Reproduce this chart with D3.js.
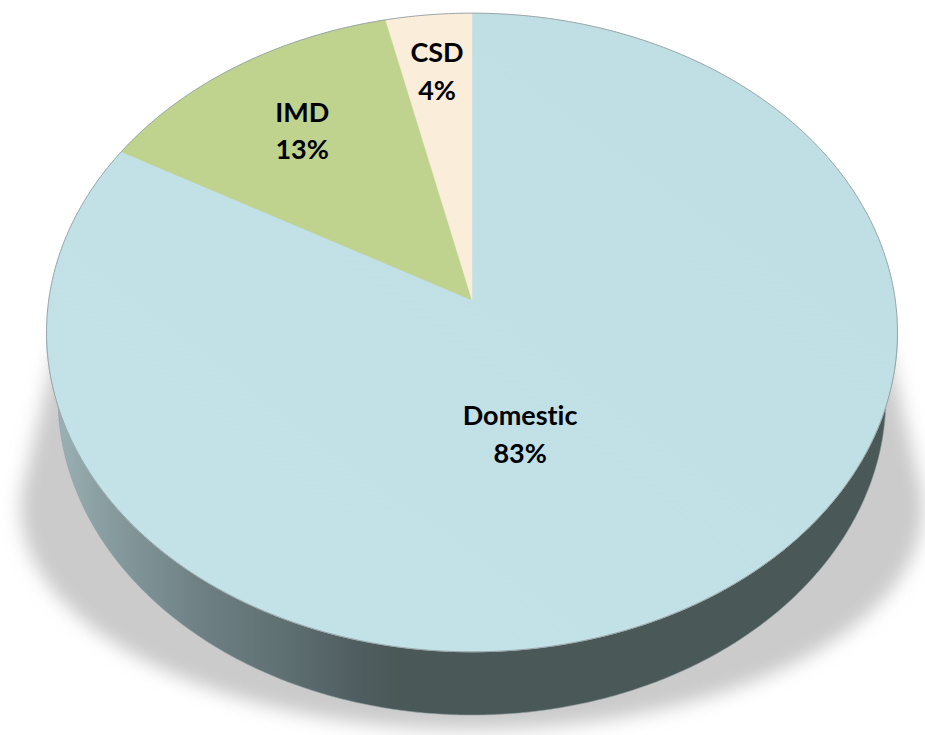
<!DOCTYPE html>
<html>
<head>
<meta charset="utf-8">
<script src="https://cdn.jsdelivr.net/npm/d3@7"></script>
<style>
  body { margin: 0; background: #fff; }
  svg { display: block; }
  text { font-variant-ligatures: none; font-feature-settings: "liga" 0, "dlig" 0; }
</style>
</head>
<body>
<svg id="chart"></svg>
<script>
// data
const categories = ["Domestic", "IMD", "CSD"];
const shares = [83.2, 13.2, 3.6];
const topColors = ["#bfdee3", "#bfd38e", "#faedda"];

// label placement, as fraction of radius and turn (degrees) off the mid angle
const labelRadius = [0.42, 0.71, 0.79];
const labelTurn = [15.2, 0, 0];

const width = 925, height = 735;

// simple perspective camera looking down on a unit pie
const tilt = 48.3 * Math.PI / 180;
const camDist = 6.54;
const focal = 2768;
const thickness = 0.2425;
const centre = [472, 300];

function project(X, Y, Z) {
  const s = Math.sin(tilt), c = Math.cos(tilt);
  const d = camDist + Y * c - Z * s;
  return [centre[0] + focal * X / d, centre[1] - focal * (Y * s + Z * c) / d];
}

function rim(a0, a1, Z, r = 1) {
  const n = Math.max(2, Math.ceil(Math.abs(a1 - a0) / (Math.PI / 360)));
  return d3.range(n + 1).map(i => {
    const a = a0 + (a1 - a0) * i / n;
    return project(r * Math.sin(a), r * Math.cos(a), Z);
  });
}

const svg = d3.select("#chart").attr("width", width).attr("height", height);
const defs = svg.append("defs");

defs.append("filter").attr("id", "soft")
  .attr("x", "-20%").attr("y", "-20%").attr("width", "140%").attr("height", "140%")
  .append("feGaussianBlur").attr("stdDeviation", 9);

const sideGrad = defs.append("linearGradient").attr("id", "side")
  .attr("gradientUnits", "userSpaceOnUse")
  .attr("x1", 55).attr("x2", 400).attr("y1", 0).attr("y2", 0);
[[0, "#9cb2b5"], [0.13, "#8a9fa2"], [0.42, "#6e8083"], [0.68, "#5e6f71"], [0.88, "#4f5d60"], [1, "#4a5858"]]
  .forEach(([o, c]) => sideGrad.append("stop").attr("offset", o).attr("stop-color", c));

const topGrad = defs.append("linearGradient").attr("id", "top0")
  .attr("x1", "0").attr("y1", "1").attr("x2", "1").attr("y2", "0");
topGrad.append("stop").attr("offset", 0).attr("stop-color", "#c4e3e8");
topGrad.append("stop").attr("offset", 1).attr("stop-color", topColors[0]);

const pie = d3.pie().sort(null).value(d => d);
const arcs = pie(shares);
const line = d3.line();

// shadow: hull of the top rim and a widened, lowered bottom rim
const upper = rim(0, 2 * Math.PI, 0).map(([x, y]) => [centre[0] + (x - centre[0]) * 0.97, y + 30]);
const lowerRim = rim(0, 2 * Math.PI, -thickness);
const bottomY = d3.max(lowerRim, p => p[1]);
const lower = lowerRim.map(([x, y]) => [centre[0] + (x - centre[0]) * 1.09, bottomY + 15 + (y - bottomY) * 0.7]);
const hull = d3.polygonHull(upper.concat(lower));
svg.append("path")
  .attr("d", line(hull) + "Z")
  .attr("fill", "#cbcbcb")
  .attr("filter", "url(#soft)");

// visible side wall (front half)
const frontA = 95 * Math.PI / 180, frontB = 265 * Math.PI / 180;
arcs.forEach((a, i) => {
  const a0 = Math.max(a.startAngle, frontA), a1 = Math.min(a.endAngle, frontB);
  if (a1 <= a0) return;
  const pts = rim(a0, a1, 0).concat(rim(a1, a0, -thickness));
  svg.append("path")
    .attr("d", line(pts) + "Z")
    .attr("fill", i === 0 ? "url(#side)" : d3.color(topColors[i]).darker(1.5))
    .attr("stroke", "#8d9ea1")
    .attr("stroke-width", 0.6);
});

// top face slices
svg.append("g").selectAll("path")
  .data(arcs).enter().append("path")
  .attr("d", d => line([project(0, 0, 0)].concat(rim(d.startAngle, d.endAngle, 0))) + "Z")
  .attr("fill", (d, i) => i === 0 ? "url(#top0)" : topColors[i])
  .attr("stroke", (d, i) => topColors[i])
  .attr("stroke-width", 0.5);

// rim outline
svg.append("path")
  .attr("d", line(rim(0, 2 * Math.PI, 0)) + "Z")
  .attr("fill", "none")
  .attr("stroke", "#9aa6a9")
  .attr("stroke-width", 1);

// labels
const labels = svg.append("g")
  .attr("font-family", "Lato, 'Open Sans', sans-serif")
  .attr("font-weight", "bold")
  .attr("font-size", "27px")
  .attr("fill", "#000")
  .attr("text-anchor", "middle");

arcs.forEach((a, i) => {
  const mid = (a.startAngle + a.endAngle) / 2 + labelTurn[i] * Math.PI / 180;
  const r = labelRadius[i];
  const [x, y] = project(r * Math.sin(mid), r * Math.cos(mid), 0);
  const t = labels.append("text").attr("x", x).attr("y", y);
  t.append("tspan").attr("x", x).attr("dy", "-0.7em").attr("dominant-baseline", "central").text(categories[i]);
  t.append("tspan").attr("x", x).attr("dy", "1.4em").attr("dominant-baseline", "central").text(Math.round(shares[i]) + "%");
});
</script>
</body>
</html>
